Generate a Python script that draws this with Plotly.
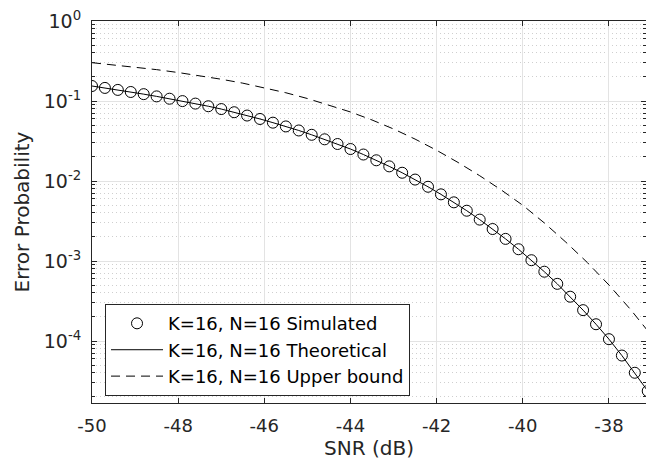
import plotly.graph_objects as go

# SNR (dB) for simulated / theoretical points
snr_sim = [-50.0, -49.7, -49.4, -49.1, -48.8, -48.5, -48.2, -47.9, -47.6, -47.3,
           -47.0, -46.7, -46.4, -46.1, -45.8, -45.5, -45.2, -44.9, -44.6, -44.3,
           -44.0, -43.7, -43.4, -43.1, -42.8, -42.5, -42.2, -41.9, -41.6, -41.3,
           -41.0, -40.7, -40.4, -40.1, -39.8, -39.5, -39.2, -38.9, -38.6, -38.3,
           -38.0, -37.7, -37.4, -37.1]

pe_sim = [0.1540, 0.1457, 0.1376, 0.1296, 0.1218, 0.1142, 0.1068, 0.0997, 0.0928, 0.0860,
          0.0793, 0.0724, 0.0658, 0.0596, 0.0536, 0.0481, 0.0428, 0.0378, 0.0332, 0.0290,
          0.0251, 0.02143, 0.01815, 0.01524, 0.01268, 0.01042, 0.00847, 0.00681, 0.00541, 0.00425,
          0.00329, 0.00251, 0.00189, 0.001403, 0.001023, 0.000735, 0.000518, 0.000358, 0.000243, 0.000162,
          0.0001054, 6.58e-5, 4.01e-5, 2.37e-5]

pe_theory = [0.1540, 0.1457, 0.1376, 0.1296, 0.1218, 0.1142, 0.1068, 0.0997, 0.0928, 0.0860,
             0.0793, 0.0724, 0.0658, 0.0596, 0.0536, 0.0481, 0.0428, 0.0378, 0.0332, 0.0290,
             0.0251, 0.02143, 0.01815, 0.01524, 0.01268, 0.01042, 0.00847, 0.00681, 0.00541, 0.00425,
             0.00329, 0.00251, 0.00189, 0.001403, 0.001023, 0.000735, 0.000518, 0.000358, 0.000243, 0.000162,
             0.0001054, 6.58e-5, 4.01e-5, 2.37e-5]

snr_ub = [-50.0, -49.5, -49.0, -48.5, -48.0, -47.5, -47.0, -46.5, -46.0, -45.5,
          -45.0, -44.5, -44.0, -43.5, -43.0, -42.5, -42.0, -41.5, -41.0, -40.5,
          -40.0, -39.5, -39.0, -38.5, -38.0, -37.5, -37.0]
pe_ub = [0.3013, 0.2838, 0.2655, 0.2466, 0.2270, 0.2070, 0.1871, 0.1671, 0.1469, 0.1268,
         0.1074, 0.0893, 0.0729, 0.0579, 0.0447, 0.0334, 0.0242, 0.01702, 0.01164, 0.00773,
         0.00497, 0.00299, 0.00172, 0.000955, 0.000501, 0.000248, 0.000115]

x_ticks = [-50, -48, -46, -44, -42, -40, -38]
x_ticktext = ["-50", "-48", "-46", "-44", "-42", "-40", "-38"]
y_ticks = [1, 0.1, 0.01, 0.001, 0.0001]
y_ticktext = ["10<sup>0</sup>", "10<sup>-1</sup>", "10<sup>-2</sup>", "10<sup>-3</sup>", "10<sup>-4</sup>"]
y_minor_ticks = [m * 10.0 ** e for e in range(-5, 0) for m in range(2, 10)]

FONT = "DejaVu Sans, Liberation Sans, Arial, sans-serif"

fig = go.Figure()
fig.add_trace(go.Scatter(
    x=snr_sim, y=pe_sim, mode="markers", name="K=16, N=16 Simulated",
    marker=dict(symbol="circle-open", size=11, color="black", line=dict(width=1, color="black")),
))
fig.add_trace(go.Scatter(
    x=snr_sim, y=pe_theory, mode="lines", name="K=16, N=16 Theoretical",
    line=dict(color="black", width=1),
))
fig.add_trace(go.Scatter(
    x=snr_ub, y=pe_ub, mode="lines", name="K=16, N=16 Upper bound",
    line=dict(color="black", width=1, dash="9px,6px"),
))

axis_col = "#262626"
fig.update_layout(
    width=646, height=461,
    margin=dict(l=92, r=0, t=21, b=58),
    paper_bgcolor="white", plot_bgcolor="white",
    font=dict(family=FONT, size=18, color=axis_col),
    showlegend=True,
    legend=dict(
        x=0.0235, y=0.018, xanchor="left", yanchor="bottom",
        bgcolor="white", bordercolor=axis_col, borderwidth=1,
        font=dict(family=FONT, size=18, color="black"),
        tracegroupgap=0, itemwidth=52,
    ),
    xaxis=dict(
        range=[-50, -37.14],
        tickvals=x_ticks, ticktext=x_ticktext,
        ticks="inside", ticklen=5, tickcolor=axis_col,
        showline=True, linecolor=axis_col, linewidth=1, mirror="ticks",
        showgrid=True, gridcolor="#e3e3e3", gridwidth=1,
        zeroline=False,
        ticklabelstandoff=6,
        title=dict(text="SNR (dB)", font=dict(size=20, family=FONT), standoff=2),
        tickfont=dict(size=18, family=FONT),
    ),
    yaxis=dict(
        type="log", range=[-4.775, 0],
        tickvals=y_ticks, ticktext=y_ticktext,
        ticks="inside", ticklen=5, tickcolor=axis_col,
        showline=True, linecolor=axis_col, linewidth=1, mirror="ticks",
        showgrid=True, gridcolor="#e3e3e3", gridwidth=1,
        zeroline=False,
        ticklabelstandoff=6,
        minor=dict(tickmode="array", tickvals=y_minor_ticks,
                   ticks="inside", ticklen=3, tickcolor=axis_col,
                   showgrid=True, gridcolor="#cfcfcf", griddash="1px,3px", gridwidth=1),
        title=dict(text="Error Probability", font=dict(size=20, family=FONT), standoff=8),
        tickfont=dict(size=19, family=FONT),
    ),
)

fig.write_html("out.html")
